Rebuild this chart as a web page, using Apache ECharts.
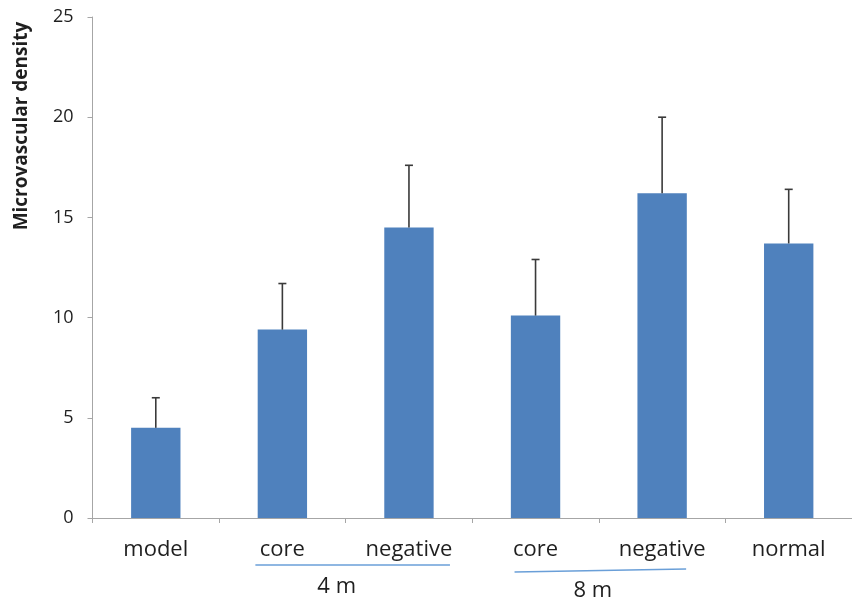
<!DOCTYPE html>
<html><head><meta charset="utf-8">
<script src="https://cdn.jsdelivr.net/npm/echarts@6/dist/echarts.min.js"></script>
<style>html,body{margin:0;padding:0;background:#fff}#c{width:852px;height:603px}</style>
</head><body><div id="c"></div>
<script>
const categories = ['model','core','negative','core','negative','normal'];
const means = [4.5, 9.4, 14.5, 10.1, 16.2, 13.7];
const upper = [6.0, 11.7, 17.6, 12.9, 20.0, 16.4];
const groups = [{label:'4 m', from:1, to:2}, {label:'8 m', from:3, to:4}];
const yTitle = 'Microvascular density';

const chart = echarts.init(document.getElementById('c'));
const font = '"Open Sans", "Noto Sans", sans-serif';
const option = {
  animation: false,
  grid: {left: 92.5, width: 767.5, top: 17, height: 501, containLabel: false},
  xAxis: {
    type: 'category', data: categories,
    axisLine: {lineStyle: {color: '#a6a6a6', width: 1}},
    axisTick: {show: true, length: 5, lineStyle: {color: '#a6a6a6'}},
    axisLabel: {color: '#1f1f1f', fontSize: 22, fontFamily: font, margin: 21}
  },
  yAxis: {
    type: 'value', min: 0, max: 25, interval: 5,
    axisLine: {show: true, lineStyle: {color: '#a6a6a6'}},
    axisTick: {show: true, length: 5, inside: false, lineStyle: {color: '#a6a6a6'}},
    splitLine: {show: false},
    axisLabel: {color: '#1f1f1f', fontSize: 18, fontFamily: font, margin: 19}
  },
  series: [
    {type: 'bar', data: means, barWidth: '39%', itemStyle: {color: '#4f81bd'}, z: 2},
    {type: 'custom', z: 3,
     data: means.map((m, i) => [i, m, upper[i]]),
     renderItem: function(params, api) {
       const base = api.coord([api.value(0), api.value(1)]);
       const top = api.coord([api.value(0), api.value(2)]);
       const cap = 4;
       const st = {stroke: '#3a3a3a', lineWidth: 1.6};
       return {type: 'group', children: [
         {type: 'line', shape: {x1: base[0], y1: base[1], x2: top[0], y2: top[1]}, style: st},
         {type: 'line', shape: {x1: top[0]-cap, y1: top[1], x2: top[0]+cap, y2: top[1]}, style: st}
       ]};
     }
    }
  ]
};
chart.setOption(option);

// annotations positioned from the axis scales
const y0 = chart.convertToPixel({yAxisIndex: 0}, 0);
const g = [{
  type: 'text', x: 22, y: 126, rotation: Math.PI / 2,
  style: {text: yTitle, fill: '#1f1f1f', font: 'bold 19px ' + font, align: 'center', verticalAlign: 'middle'}
}];
const lineOff = [[-27, 41, 47, 47], [-21, 24, 54, 51]];
const textOff = [[-9, 69], [-6, 73]];
groups.forEach((grp, k) => {
  const a = chart.convertToPixel({xAxisIndex: 0}, grp.from);
  const b = chart.convertToPixel({xAxisIndex: 0}, grp.to);
  const o = lineOff[k];
  g.push({type: 'line', shape: {x1: a + o[0], y1: y0 + o[2], x2: b + o[1], y2: y0 + o[3]}, style: {stroke: '#6a9fd8', lineWidth: 1.3}});
  g.push({type: 'text', x: (a + b) / 2 + textOff[k][0], y: y0 + textOff[k][1],
    style: {text: grp.label, fill: '#1f1f1f', font: '22px ' + font, align: 'center', verticalAlign: 'middle'}});
});
chart.setOption({graphic: g});
</script></body></html>
